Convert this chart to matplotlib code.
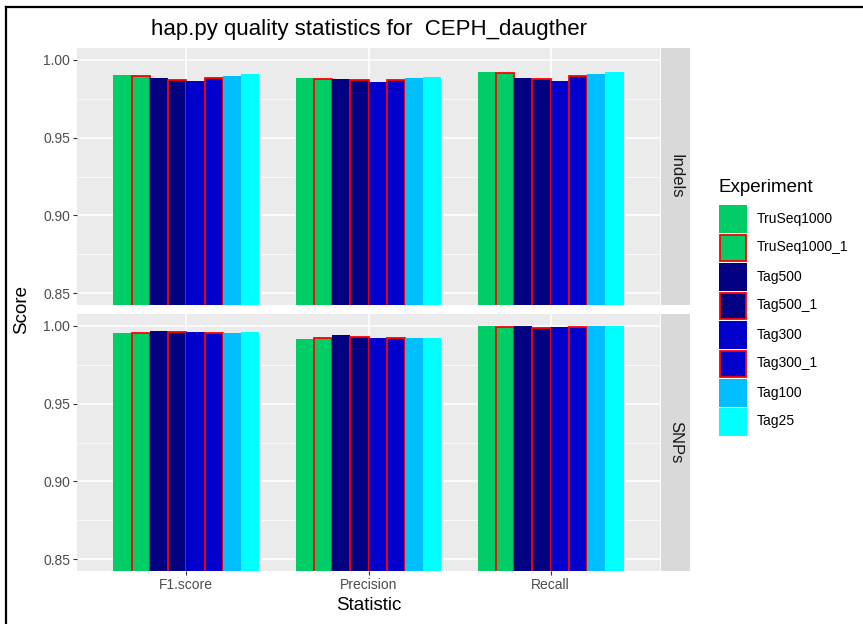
import matplotlib
matplotlib.use("Agg")
import matplotlib.pyplot as plt
import numpy as np
from matplotlib.patches import Rectangle
from matplotlib.lines import Line2D

plt.rcParams["font.family"] = ["Liberation Sans", "DejaVu Sans"]

# data
statistics = ["F1.score", "Precision", "Recall"]
experiments = ["TruSeq1000", "TruSeq1000_1", "Tag500", "Tag500_1",
               "Tag300", "Tag300_1", "Tag100", "Tag25"]
colors = ["#00CD66", "#00CD66", "#000080", "#000080",
          "#0000CD", "#0000CD", "#00BFFF", "#00FFFF"]
edges = ["none", "red", "none", "red", "none", "red", "none", "none"]

indels_f1 = [0.9902, 0.9893, 0.9880, 0.9872, 0.9863, 0.9882, 0.9895, 0.9908]
indels_precision = [0.9885, 0.9878, 0.9878, 0.9867, 0.9859, 0.9872, 0.9883, 0.9891]
indels_recall = [0.9919, 0.9912, 0.9883, 0.9874, 0.9865, 0.9895, 0.9910, 0.9921]
snps_f1 = [0.9956, 0.9952, 0.9967, 0.9958, 0.9958, 0.9954, 0.9956, 0.9958]
snps_precision = [0.9916, 0.9918, 0.9939, 0.9930, 0.9924, 0.9918, 0.9922, 0.9924]
snps_recall = [0.9996, 0.9990, 0.9998, 0.9988, 0.9990, 0.9993, 0.9996, 0.9996]

panels = [
    ("Indels", [indels_f1, indels_precision, indels_recall]),
    ("SNPs", [snps_f1, snps_precision, snps_recall]),
]

W, H = 863, 624
fig = plt.figure(figsize=(W / 100, H / 100), dpi=100)


def fx(px):
    return px / W


def fy(py):
    return 1 - py / H


panel_left, panel_right = 77, 660
strip_right = 690
panel_rows = [(48, 305), (314, 571)]

bar_w = 0.1
x = np.arange(len(statistics))

for row, ((name, series), (top, bottom)) in enumerate(zip(panels, panel_rows)):
    ax = fig.add_axes([fx(panel_left), fy(bottom), fx(panel_right - panel_left),
                       (bottom - top) / H])
    ax.set_facecolor("#EBEBEB")
    for sp in ax.spines.values():
        sp.set_visible(False)
    ax.set_axisbelow(True)

    vals = np.array(series).T  # experiments x statistics
    for i, exp in enumerate(experiments):
        offs = (i - (len(experiments) - 1) / 2) * bar_w
        ax.bar(x + offs, vals[i], width=bar_w, color=colors[i],
               edgecolor=edges[i], linewidth=1.3 if edges[i] != "none" else 0,
               zorder=3)

    ax.set_xlim(0 - 0.6, len(statistics) - 1 + 0.6)
    ax.set_ylim(0.8425, 1.0075)
    ax.set_yticks([0.85, 0.90, 0.95, 1.00])
    ax.set_yticks([0.875, 0.925, 0.975], minor=True)
    ax.set_xticks(x)
    ax.grid(True, which="major", color="white", linewidth=1.1)
    ax.grid(True, which="minor", axis="y", color="white", linewidth=0.55)
    ax.tick_params(axis="both", which="major", length=3, width=0.8,
                   color="#333333", labelcolor="#4D4D4D", labelsize=10, pad=2)
    ax.tick_params(axis="y", which="minor", length=0)
    ax.set_yticklabels(["0.85", "0.90", "0.95", "1.00"])
    if row == 1:
        ax.set_xticklabels(statistics)
    else:
        ax.tick_params(axis="x", length=0, labelbottom=False)

    # facet strip
    sax = fig.add_axes([fx(panel_right + 1), fy(bottom), fx(strip_right - panel_right - 1),
                        (bottom - top) / H])
    sax.set_facecolor("#D9D9D9")
    sax.set_xticks([])
    sax.set_yticks([])
    for sp in sax.spines.values():
        sp.set_visible(False)
    sax.text(0.5, 0.5, name, rotation=-90, ha="center", va="center",
             fontsize=12, color="#1A1A1A", transform=sax.transAxes)

fig.text(fx((panel_left + panel_right) / 2), fy(29),
         "hap.py quality statistics for  CEPH_daugther",
         ha="center", va="center", fontsize=16, color="black")
fig.text(fx(22), fy((48 + 571) / 2), "Score", rotation=90,
         ha="center", va="center", fontsize=13.5)
fig.text(fx((panel_left + panel_right) / 2), fy(606), "Statistic",
         ha="center", va="center", fontsize=13.5)

# legend, drawn by hand so the keys sit flush like ggplot's
key_x, key_y0, key_size = 718, 204, 29
fig.text(fx(key_x), fy(187), "Experiment", ha="left", va="center", fontsize=13.5)
for i, (label, c, e) in enumerate(zip(experiments, colors, edges)):
    ky = key_y0 + i * key_size
    fig.add_artist(Rectangle((fx(key_x), fy(ky + key_size)), fx(key_size), key_size / H,
                             facecolor="#F2F2F2", edgecolor="white", linewidth=0.5))
    inset = 1.5 if e != "none" else 0.5
    fig.add_artist(Rectangle((fx(key_x + inset), fy(ky + key_size - inset)),
                             fx(key_size - 2 * inset), (key_size - 2 * inset) / H,
                             facecolor=c, edgecolor=(e if e != "none" else c),
                             linewidth=1.3 if e != "none" else 0))
    fig.text(fx(757), fy(ky + key_size / 2), label, ha="left", va="center",
             fontsize=10, color="black")

# screenshot frame
fig.add_artist(Line2D([fx(6), fx(6)], [0, fy(7)], color="black", linewidth=1.6))
fig.add_artist(Line2D([fx(6), 1], [fy(7), fy(7)], color="black", linewidth=1.6))

fig.savefig("out.png", dpi=100)
